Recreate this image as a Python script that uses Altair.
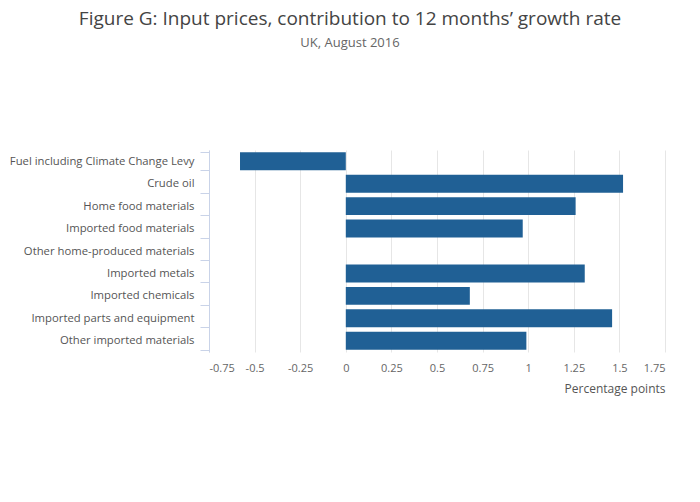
import altair as alt
import pandas as pd

categories = [
    "Fuel including Climate Change Levy",
    "Crude oil",
    "Home food materials",
    "Imported food materials",
    "Other home-produced materials",
    "Imported metals",
    "Imported chemicals",
    "Imported parts and equipment",
    "Other imported materials",
]
values = [-0.58, 1.52, 1.26, 0.97, 0.0, 1.31, 0.68, 1.46, 0.99]
x_ticks = [-0.75, -0.5, -0.25, 0, 0.25, 0.5, 0.75, 1, 1.25, 1.5, 1.75]

df = pd.DataFrame({"category": categories, "value": values})

chart = (
    alt.Chart(df)
    .mark_bar(color="#206095")
    .encode(
        x=alt.X(
            "value:Q",
            scale=alt.Scale(domain=[-0.75, 1.75], nice=False, zero=False),
            axis=alt.Axis(
                values=x_ticks,
                title="Percentage points",
                titleAnchor="end",
                titleAlign="right",
                titleFontSize=12,
                titleFontWeight="normal",
                titleColor="#555555",
                titlePadding=10,
                labelExpr="'' + datum.value",
                labelFontSize=11,
                labelColor="#666666",
                labelPadding=10,
                domain=False,
                ticks=False,
                grid=True,
                gridColor="#e6e6e6",
            ),
        ),
        y=alt.Y(
            "category:N",
            sort=categories,
            scale=alt.Scale(paddingInner=0.2, paddingOuter=0.1),
            axis=alt.Axis(
                title=None,
                tickBand="extent",
                tickSize=9,
                tickColor="#c9d3e8",
                domainColor="#c9d3e8",
                labelFontSize=11.3,
                labelColor="#555555",
                labelPadding=6,
                grid=False,
                labelLimit=400,
            ),
        ),
    )
    .properties(
        width=456,
        height=202,
        autosize=alt.AutoSizeParams(type="none"),
        padding={"left": 201, "top": 142, "right": 27, "bottom": 136},
        title=alt.TitleParams(
            text="Figure G: Input prices, contribution to 12 months\u2019 growth rate",
            subtitle="UK, August 2016",
            anchor="middle",
            dx=-87,
            offset=94,
            fontSize=19,
            fontWeight="normal",
            color="#444444",
            subtitleFontSize=13,
            subtitleColor="#666666",
            subtitlePadding=8,
        ),
    )
    .configure(font="Open Sans")
    .configure_view(stroke=None)
)

chart.save("out.html", embed_options={"renderer": "svg", "actions": False})
